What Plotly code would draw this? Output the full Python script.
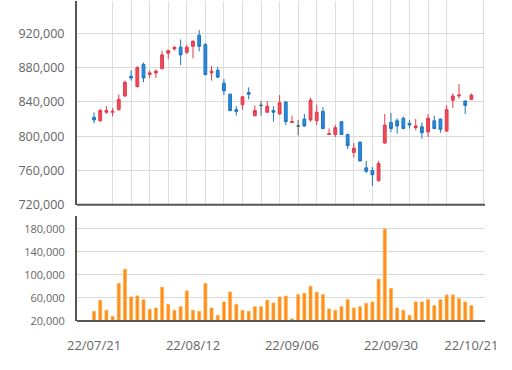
import plotly.graph_objects as go

dates = [
    "22/07/21", "22/07/22", "22/07/25", "22/07/26", "22/07/27", "22/07/28", "22/07/29",
    "22/08/01", "22/08/02", "22/08/03", "22/08/04", "22/08/05",
    "22/08/08", "22/08/09", "22/08/10", "22/08/11", "22/08/12",
    "22/08/16", "22/08/17", "22/08/18", "22/08/19",
    "22/08/22", "22/08/23", "22/08/24", "22/08/25", "22/08/26",
    "22/08/29", "22/08/30", "22/08/31",
    "22/09/01", "22/09/02", "22/09/05", "22/09/06", "22/09/07", "22/09/08",
    "22/09/13", "22/09/14", "22/09/15", "22/09/16",
    "22/09/19", "22/09/20", "22/09/21", "22/09/22", "22/09/23",
    "22/09/26", "22/09/27", "22/09/28", "22/09/29", "22/09/30",
    "22/10/04", "22/10/05", "22/10/06", "22/10/07",
    "22/10/11", "22/10/12", "22/10/13", "22/10/14",
    "22/10/17", "22/10/18", "22/10/19", "22/10/20", "22/10/21",
]

open_ = [822, 818, 828, 828, 831, 847, 870, 858, 884, 872, 874, 879, 897, 902, 904, 898,
         905, 918, 907, 874, 877, 862, 849, 831, 837, 851, 824, 836, 828, 830, 826, 840,
         816, 812, 820, 819, 818, 829, 802, 802, 817, 802, 781, 793, 763, 760, 748, 792,
         816, 818, 821, 815, 810, 811, 805, 818, 820, 806, 842, 847, 841, 843]
high = [828, 832, 835, 833, 849, 865, 877, 882, 886, 877, 878, 900, 901, 905, 913, 907,
        912, 924, 909, 882, 881, 867, 850, 835, 847, 857, 836, 841, 841, 835, 848, 841,
        824, 819, 826, 845, 837, 834, 809, 813, 817, 803, 792, 794, 771, 764, 771, 826,
        827, 821, 823, 819, 820, 816, 826, 824, 820.5, 836, 850, 861, 842, 850]
low = [815, 817, 826, 823, 830, 846, 865, 857, 863, 868, 868, 878, 890, 900, 883, 896,
       891, 899, 871, 865, 868, 848, 829, 824, 831, 843, 823, 824, 827, 817, 825, 813,
       816, 801, 811, 817, 813, 808, 802, 799, 802, 785, 775, 771, 757, 742, 747, 791,
       805, 803, 808, 809, 807, 797, 799, 808, 804, 805, 833, 844, 826, 843]
close = [819, 830, 830, 829, 843, 863, 868, 880, 868, 874, 876, 895, 900, 904, 895, 904,
         911, 905, 872, 876, 869, 853, 830, 829, 846, 849, 830, 836, 835, 828, 839, 817,
         817, 812, 812, 842, 828, 809, 803, 810, 802, 789, 786, 771, 759, 755, 768, 813,
         809, 812, 809, 813, 812, 804, 821, 809, 808, 831, 847, 848, 836, 848]

volume = [36.9, 56.1, 38.6, 28.1, 85.2, 110.2, 61.9, 63.7, 57.2, 40.4, 42.7, 78.8, 49.1,
          38.6, 45.0, 72.4, 38.6, 36.9, 85.2, 42.7, 29.9, 53.2, 70.6, 49.1, 38.6, 36.9,
          45.0, 45.0, 56.1, 51.4, 61.9, 63.4, 24.0, 66.0, 68.3, 80.5, 70.0, 66.0, 41.0,
          38.6, 45.0, 57.2, 42.7, 45.0, 50.8, 53.2, 92.8, 180.0, 76.5, 42.7, 38.6, 29.9,
          53.2, 53.2, 57.2, 46.8, 57.2, 65.4, 65.4, 59.0, 53.2, 46.8]

tick_dates = ["22/07/21", "22/08/12", "22/09/06", "22/09/30", "22/10/21"]
price_ticks = [720000, 760000, 800000, 840000, 880000, 920000]
volume_ticks = [20000, 60000, 100000, 140000, 180000]

pos = list(range(len(dates)))
o = [v * 1000 for v in open_]
h = [v * 1000 for v in high]
l = [v * 1000 for v in low]
c = [v * 1000 for v in close]
vol = [v * 1000 for v in volume]

RED = "#f04a5a"
RED_LINE = "#e23a4b"
BLUE = "#2b8ad8"
BLUE_LINE = "#1f76c4"
GRAY = "#4e5c72"


def subset(cond):
    idx = [i for i in pos if cond(i)]
    return dict(x=[pos[i] for i in idx], open=[o[i] for i in idx], high=[h[i] for i in idx],
                low=[l[i] for i in idx], close=[c[i] for i in idx])


fig = go.Figure()
for cond, fill, line in [
    (lambda i: c[i] > o[i], RED, RED_LINE),
    (lambda i: c[i] < o[i], BLUE, BLUE_LINE),
    (lambda i: c[i] == o[i], GRAY, GRAY),
]:
    d = subset(cond)
    fig.add_trace(go.Candlestick(
        **d, xaxis="x", yaxis="y",
        increasing=dict(fillcolor=fill, line=dict(color=line, width=1)),
        decreasing=dict(fillcolor=fill, line=dict(color=line, width=1)),
        showlegend=False, whiskerwidth=0,
    ))

fig.add_trace(go.Bar(
    x=pos, y=vol, xaxis="x2", yaxis="y2", width=0.5, base=0,
    marker=dict(color="#ff8f1c", line=dict(color="#ffb04a", width=0.6)),
    showlegend=False,
))

xr = [-2.75, 63.2]
tickfont = dict(family="Open Sans, sans-serif", color="#666666")
fig.update_layout(
    width=512, height=370,
    margin=dict(l=77, r=27, t=1, b=49),
    paper_bgcolor="white", plot_bgcolor="white",
    boxgap=0.35,
    xaxis=dict(
        domain=[0, 1], anchor="y", range=xr, showticklabels=False, showgrid=False,
        zeroline=False, rangeslider=dict(visible=False),
        showline=False,
        minor=dict(dtick=3, tick0=0, showgrid=True, gridcolor="#dedede", gridwidth=1, ticks=""),
    ),
    yaxis=dict(
        domain=[0.3636, 1], anchor="x", range=[720000, 958000],
        tickvals=price_ticks, tickformat=",", gridcolor="#d9d9d9", gridwidth=1,
        showline=True, linecolor="#555555", linewidth=2, zeroline=False,
        tickfont=dict(size=12.5, **tickfont), ticklabelstandoff=8,
    ),
    xaxis2=dict(
        domain=[0, 1], anchor="y2", range=xr, showgrid=False, zeroline=False,
        tickvals=[dates.index(d) for d in tick_dates], ticktext=tick_dates,
        tickfont=dict(size=13, **tickfont), ticklabelstandoff=15, ticks="",
    ),
    yaxis2=dict(
        domain=[0, 0.329], anchor="x2", range=[20000, 203000],
        tickvals=volume_ticks, tickformat=",", gridcolor="#d9d9d9", gridwidth=1,
        showline=True, linecolor="#555555", linewidth=2, zeroline=False,
        tickfont=dict(size=11, **tickfont), ticklabelstandoff=8,
    ),
    shapes=[
        dict(type="line", xref="x domain", yref="y domain", x0=0, x1=1, y0=0, y1=0,
             line=dict(color="#555555", width=2)),
        dict(type="line", xref="x2 domain", yref="y2 domain", x0=0, x1=1, y0=0, y1=0,
             line=dict(color="#555555", width=2)),
    ],
)

fig.write_html("out.html", config={"displayModeBar": False},
               post_script="document.body.style.margin='0px';")
